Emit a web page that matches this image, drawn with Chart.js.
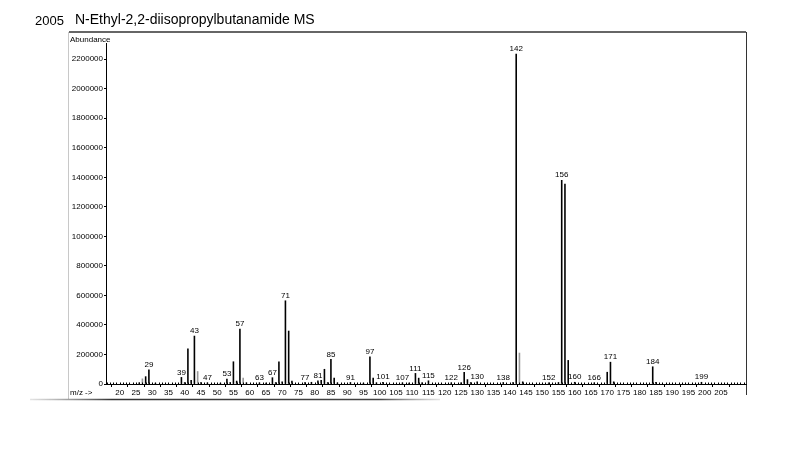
<!DOCTYPE html>
<html><head><meta charset="utf-8">
<script src="https://cdn.jsdelivr.net/npm/chart.js@4"></script>
<style>
html,body{margin:0;padding:0;background:#fff;}
#wrap{position:relative;width:800px;height:467px;overflow:hidden;}
canvas{position:absolute;left:0;top:0;}
.t{position:absolute;font-family:"Liberation Sans",Arial,sans-serif;color:#000;white-space:nowrap;line-height:1;}
</style></head><body>
<div id="wrap">
<canvas id="c" width="800" height="467"></canvas>
<div class="t" style="left:35px;top:14px;font-size:13px">2005</div>
<div class="t" style="left:75px;top:12px;font-size:14px">N-Ethyl-2,2-diisopropylbutanamide MS</div>
<div class="t" style="left:70px;top:36px;font-size:8px">Abundance</div>
<div class="t" style="left:70px;top:389px;font-size:8px">m/z -&gt;</div>
</div>
<script>
const masses = [26, 27, 28, 29, 31, 39, 40, 41, 42, 43, 44, 45, 47, 51, 53, 54, 55, 56, 57, 58, 59, 63, 65, 67, 68, 69, 70, 71, 72, 73, 77, 79, 81, 82, 83, 84, 85, 86, 87, 91, 95, 97, 98, 99, 101, 107, 109, 111, 112, 113, 115, 122, 125, 126, 127, 128, 130, 138, 141, 142, 143, 144, 152, 155, 156, 157, 158, 160, 166, 170, 171, 172, 184, 185, 199];
const abundances = [8000, 35000, 50000, 97000, 6000, 45000, 10000, 238000, 25000, 325000, 85000, 10000, 8000, 6000, 34000, 10000, 151000, 20000, 372000, 40000, 8000, 8000, 6000, 43000, 10000, 151000, 15000, 564000, 359000, 20000, 10000, 12000, 22000, 25000, 100000, 10000, 167000, 40000, 8000, 10000, 6000, 185000, 40000, 8000, 12000, 8000, 6000, 72000, 40000, 8000, 22000, 8000, 8000, 79000, 30000, 10000, 15000, 10000, 10000, 2235000, 210000, 15000, 8000, 10000, 1380000, 1354000, 160000, 12000, 8000, 80000, 148000, 15000, 117000, 12000, 12000];
const labeledPeaks = [29, 39, 43, 47, 53, 57, 63, 67, 71, 77, 81, 85, 91, 97, 101, 107, 111, 115, 122, 126, 130, 138, 142, 152, 156, 160, 166, 171, 184, 199];
const xTickValues = [20, 25, 30, 35, 40, 45, 50, 55, 60, 65, 70, 75, 80, 85, 90, 95, 100, 105, 110, 115, 120, 125, 130, 135, 140, 145, 150, 155, 160, 165, 170, 175, 180, 185, 190, 195, 200, 205];
const yTickValues = [0, 200000, 400000, 600000, 800000, 1000000, 1200000, 1400000, 1600000, 1800000, 2000000, 2200000];

const FONT = '"Liberation Sans", Arial, sans-serif';
const faintMasses = [27, 44, 58, 143];
const xMin = 15.8, xMax = 212.7, yMax = 2310000;

const decor = {
  id: 'decor',
  beforeDraw(chart) {
    const c = chart.ctx;
    c.save();
    c.lineWidth = 1.5;
    c.strokeStyle = '#333';
    c.beginPath(); c.moveTo(69, 32); c.lineTo(746, 32); c.stroke();
    c.lineWidth = 1;
    c.beginPath(); c.moveTo(746.5, 32); c.lineTo(746.5, 395); c.stroke();
    c.strokeStyle = '#c8c8c8';
    c.beginPath(); c.moveTo(68.5, 32); c.lineTo(68.5, 399); c.stroke();
    const g = c.createLinearGradient(30, 0, 440, 0);
    g.addColorStop(0, 'rgba(120,120,120,0.2)');
    g.addColorStop(0.2, '#333');
    g.addColorStop(0.85, '#444');
    g.addColorStop(1, 'rgba(120,120,120,0.2)');
    c.strokeStyle = g; c.lineWidth = 1.5;
    c.beginPath(); c.moveTo(30, 399.5); c.lineTo(440, 399.5); c.stroke();
    c.restore();
  },
  afterDatasetsDraw(chart) {
    const c = chart.ctx, xs = chart.scales.x, ys = chart.scales.y;
    c.save();
    c.strokeStyle = '#000'; c.lineWidth = 1;
    const base = Math.round(ys.getPixelForValue(0)) + 0.5;
    for (let m = Math.ceil(xs.min); m <= Math.floor(xs.max); m++) {
      const px = Math.round(xs.getPixelForValue(m)) + 0.5;
      c.beginPath(); c.moveTo(px, base - 2); c.lineTo(px, base); c.stroke();
    }
    c.fillStyle = '#000';
    c.font = '8px ' + FONT;
    c.textAlign = 'center';
    c.textBaseline = 'bottom';
    labeledPeaks.forEach(m => {
      const i = masses.indexOf(m);
      if (i < 0) return;
      const px = xs.getPixelForValue(m);
      const py = ys.getPixelForValue(abundances[i]);
      c.fillText(String(m), px, py - 1);
    });
    c.restore();
  }
};

new Chart(document.getElementById('c'), {
  type: 'bar',
  data: {
    datasets: [{
      data: masses.map((m, i) => ({ x: m, y: abundances[i] })),
      backgroundColor: ctx => (ctx.raw && faintMasses.includes(ctx.raw.x)) ? '#9a9a9a' : '#000',
      barThickness: 1,
      borderWidth: 0,
      inflateAmount: 0.3,
      grouped: false
    }]
  },
  options: {
    responsive: false,
    animation: false,
    devicePixelRatio: 1,
    layout: { padding: { left: 0, top: 43, right: 54, bottom: 63 } },
    plugins: { legend: { display: false }, tooltip: { enabled: false }, title: { display: false } },
    scales: {
      x: {
        type: 'linear', min: xMin, max: xMax, offset: false,
        afterBuildTicks: s => { s.ticks = xTickValues.map(v => ({ value: v })); },
        afterFit: s => { s.height = 20; },
        ticks: { autoSkip: false, maxRotation: 0, font: { size: 8, family: FONT }, color: '#000', padding: 1, callback: v => String(v) },
        grid: { drawOnChartArea: false, drawTicks: true, tickLength: 3, color: '#000' },
        border: { color: '#000', width: 1 }
      },
      y: {
        type: 'linear', min: 0, max: yMax,
        afterBuildTicks: s => { s.ticks = yTickValues.map(v => ({ value: v })); },
        afterFit: s => { s.width = 106; },
        ticks: { font: { size: 8, family: FONT }, color: '#000', padding: 1, callback: v => String(v) },
        grid: { drawOnChartArea: false, drawTicks: true, tickLength: 2, color: '#000' },
        border: { color: '#000', width: 1 }
      }
    }
  },
  plugins: [decor]
});
</script>
</body></html>
